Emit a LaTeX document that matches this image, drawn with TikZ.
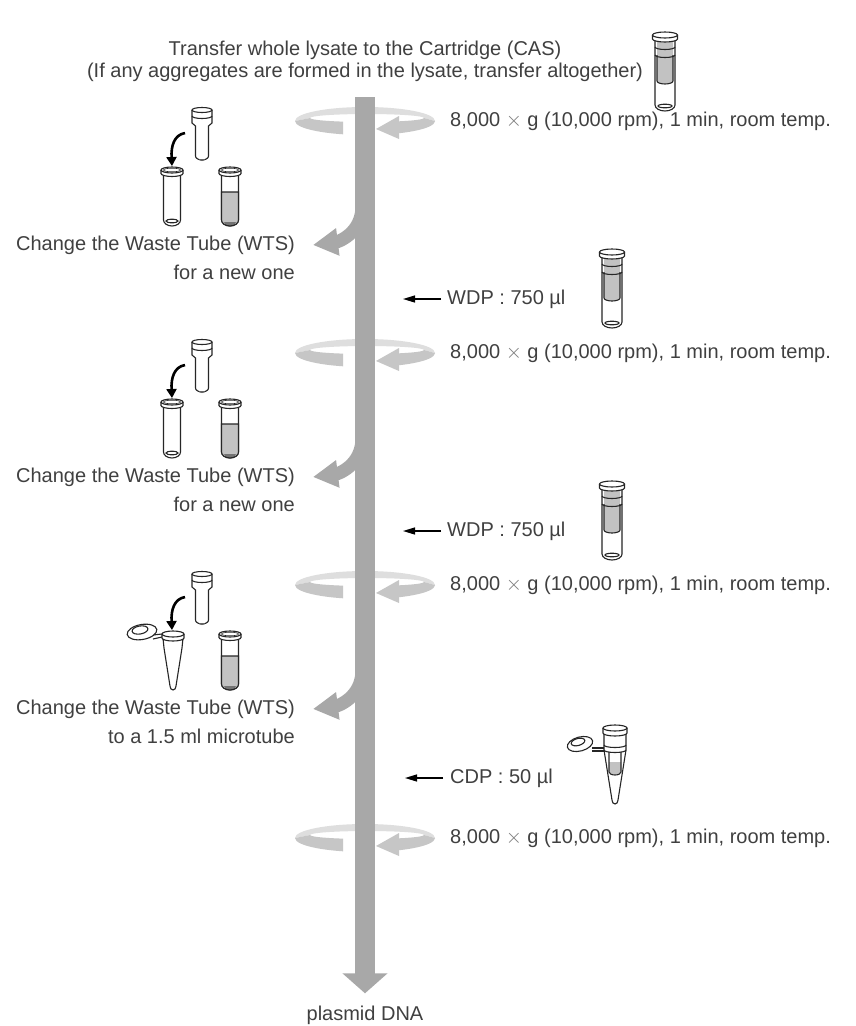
\documentclass[tikz,border=0pt]{standalone}
\usepackage{fontspec}
\setmainfont{Liberation Sans}
\usetikzlibrary{arrows.meta}

\definecolor{flowgray}{HTML}{A8A8A8}
\definecolor{ringlight}{HTML}{DEDEDE}
\definecolor{ringdark}{HTML}{C6C6C6}
\definecolor{ink}{HTML}{404040}
\definecolor{liquid}{HTML}{C2C2C2}

\tikzset{
  lbl/.style={inner sep=0pt,text=ink},
  trunk/.style={draw=flowgray,line width=20pt,-{Triangle[width=44pt,length=20pt]}},
  branch/.style={draw=flowgray,line width=13pt,-{Triangle[width=26pt,length=25pt]}},
  addarrow/.style={draw=black,line width=1.3pt,-{Triangle[width=7pt,length=12pt]}},
  movearrow/.style={draw=black,line width=2.6pt,-{Triangle[width=10pt,length=9pt]}},
  outline/.style={draw=black!85,line width=1.1pt},
  % spin ring, back half (drawn before the trunk)
  ringback/.pic={
    \fill[ringlight] (-70,0) arc[start angle=180,end angle=360,x radius=70,y radius=14]
      -- (59,-3) arc[start angle=0,end angle=-180,x radius=57,y radius=4] -- cycle;
  },
  % spin ring, front half with the arrow head
  ringfront/.pic={
    \begin{scope}
      \clip (-85,-20) rectangle (-22,20);
      \fill[ringdark] (-70,0) arc[start angle=180,end angle=0,x radius=70,y radius=14]
        -- (59,-3) arc[start angle=0,end angle=180,x radius=57,y radius=4] -- cycle;
    \end{scope}
    \begin{scope}
      \clip (33,-20) rectangle (85,20);
      \fill[ringdark] (-70,0) arc[start angle=180,end angle=0,x radius=70,y radius=14]
        -- (59,-3) arc[start angle=0,end angle=180,x radius=57,y radius=4] -- cycle;
    \end{scope}
    \fill[ringdark] (34,-5) -- (34,18) -- (11,8) -- cycle;
  },
  wastetube/.pic={
    \draw[outline,fill=white] (-8.5,4) -- (-8.5,50) arc[start angle=180,end angle=0,x radius=8.5,y radius=6] -- (8.5,4);
    \draw[outline] (0,51) ellipse[x radius=6,y radius=1.8];
    \draw[outline,fill=white] (-11,0) -- (-11,3.5) arc[start angle=180,end angle=0,x radius=11,y radius=3] -- (11,0);
    \draw[outline,fill=white] (0,0) ellipse[x radius=11,y radius=3];
    \draw[outline,line width=.6pt] (0,0) ellipse[x radius=8.5,y radius=1.8];
  },
  usedtube/.pic={
    \pic {wastetube};
    \fill[liquid] (-8.5,22) -- (-8.5,50) arc[start angle=180,end angle=0,x radius=8.5,y radius=6] -- (8.5,22) -- cycle;
    \fill[black!55] (-6,52) arc[start angle=180,end angle=0,x radius=6,y radius=4] -- cycle;
    \draw[outline] (-8.5,22) -- (-8.5,50) arc[start angle=180,end angle=0,x radius=8.5,y radius=6] -- (8.5,22) -- cycle;
  },
  cartridge/.pic={
    \draw[outline,fill=white] (-10,0) -- (-10,13) -- (-6.5,16) -- (-6.5,46)
      arc[start angle=180,end angle=0,x radius=6.5,y radius=4] -- (6.5,16) -- (10,13) -- (10,0);
    \draw[outline] (-10,6) arc[start angle=180,end angle=0,x radius=10,y radius=2.5];
    \draw[outline,fill=white] (0,0) ellipse[x radius=10,y radius=2.5];
    \fill[black!60] (-3,49) arc[start angle=180,end angle=0,x radius=3,y radius=2] -- cycle;
  },
  cartubed/.pic={
    \draw[outline,fill=white] (-10,5) -- (-10,70) arc[start angle=180,end angle=0,x radius=10,y radius=6] -- (10,5);
    \draw[outline] (0,71) ellipse[x radius=7,y radius=1.8];
    \fill[liquid] (-8,6) -- (-8,46) arc[start angle=180,end angle=0,x radius=8,y radius=3] -- (8,6) -- cycle;
    \draw[outline] (-8,20) -- (-8,46) arc[start angle=180,end angle=0,x radius=8,y radius=3] -- (8,20);
    \draw[outline] (-10,12) arc[start angle=180,end angle=0,x radius=10,y radius=2.5];
    \draw[outline] (-10,20) arc[start angle=180,end angle=0,x radius=10,y radius=2.5];
    \draw[outline,fill=white] (-12.5,0) -- (-12.5,4) arc[start angle=180,end angle=0,x radius=12.5,y radius=3] -- (12.5,0);
    \draw[outline,fill=white] (0,0) ellipse[x radius=12.5,y radius=3];
  },
  microtube/.pic={
    \draw[outline,fill=white] (-10,4) -- (-9,14) -- (-3,52) arc[start angle=180,end angle=0,x radius=3,y radius=4] -- (9,14) -- (10,4);
    \draw[outline] (-11,3) -- (-20,5);
    \draw[outline] (-11,0) -- (-20,1);
    \draw[outline,fill=white,rotate around={10:(-31,-2)}] (-31,-2) ellipse[x radius=15,y radius=7.5];
    \draw[outline,rotate around={10:(-33,-4)}] (-33,-4) ellipse[x radius=8,y radius=4];
    \draw[outline,fill=white] (-11,0) -- (-11,4) arc[start angle=180,end angle=0,x radius=11,y radius=3] -- (11,0);
    \draw[outline,fill=white] (0,0) ellipse[x radius=11,y radius=3];
  },
  microcart/.pic={
    \draw[outline,fill=white] (-11,6) -- (-11,22) -- (-3,72) arc[start angle=180,end angle=0,x radius=3,y radius=4] -- (11,22) -- (11,6);
    \fill[liquid] (-6,34) -- (-6,44) arc[start angle=180,end angle=0,x radius=6,y radius=3] -- (6,34) -- cycle;
    \draw[outline] (-6,24) -- (-6,44) arc[start angle=180,end angle=0,x radius=6,y radius=3] -- (6,24);
    \draw[outline] (-11,17) arc[start angle=180,end angle=0,x radius=11,y radius=2.5];
    \draw[outline] (-11,22) arc[start angle=180,end angle=0,x radius=11,y radius=2.5];
    \draw[outline] (-11,20) -- (-23,20);
    \draw[outline] (-11,23) -- (-23,23);
    \draw[outline,fill=white,rotate around={15:(-35,16)}] (-35,16) ellipse[x radius=13,y radius=7];
    \draw[outline,rotate around={15:(-37,14)}] (-37,14) ellipse[x radius=7,y radius=3.5];
    \draw[outline,fill=white] (-12,0) -- (-12,5) arc[start angle=180,end angle=0,x radius=12,y radius=3] -- (12,0);
    \draw[outline,fill=white] (0,0) ellipse[x radius=12,y radius=3];
  }
}

\begin{document}
\begin{tikzpicture}[x=1pt,y=-1pt,font=\fontsize{20}{24}\selectfont]
\path[fill=white] (0,0) rectangle (855,1026);

% title
\node[lbl] (title1) at (365,50) {Transfer whole lysate to the Cartridge (CAS)};
\node[lbl] (title2) at (365,72) {(If any aggregates are formed in the lysate, transfer altogether)};
\pic at (665,35) {cartubed};

% rings behind the column
\foreach \y in {121,353,585,838}
  \pic at (365,\y) {ringback};

% main column
\coordinate (top) at (365,97);
\node[lbl,anchor=base] (dna) at (365,1020) {plasmid DNA};
\draw[trunk] (top) -- ([yshift=12pt]dna.north);

% spin labels
\node[lbl,anchor=west] (spin1) at (450,121) {8,000 {\color{ink!70}$\times$} g (10,000 rpm), 1 min, room temp.};
\node[lbl,anchor=west] (spin2) at (450,353) {8,000 {\color{ink!70}$\times$} g (10,000 rpm), 1 min, room temp.};
\node[lbl,anchor=west] (spin3) at (450,585) {8,000 {\color{ink!70}$\times$} g (10,000 rpm), 1 min, room temp.};
\node[lbl,anchor=west] (spin4) at (450,838) {8,000 {\color{ink!70}$\times$} g (10,000 rpm), 1 min, room temp.};

% first tube change
\pic at (202,110) {cartridge};
\draw[movearrow] (185,133) .. controls (174,135) and (171,146) .. (172,166);
\pic at (172,170) {wastetube};
\pic at (230,170) {usedtube};
\node[lbl,anchor=east] (chg1) at (295,245) {Change the Waste Tube (WTS)};
\node[lbl,anchor=east] (new1) at (295,272) {for a new one};
\coordinate (fork1) at (362,206);
\draw[branch] (fork1) .. controls +(0,28) and +(24,-3) .. ([xshift=18pt]chg1.east);

\node[lbl,anchor=west] (wdp1) at (447,299) {WDP : 750 µl};
\draw[addarrow] ([xshift=-6pt]wdp1.west) -- ++(-38,0);
\pic at (612,252) {cartubed};

% second tube change
\pic at (202,342) {cartridge};
\draw[movearrow] (185,365) .. controls (174,367) and (171,378) .. (172,398);
\pic at (172,402) {wastetube};
\pic at (230,402) {usedtube};
\node[lbl,anchor=east] (chg2) at (295,477) {Change the Waste Tube (WTS)};
\node[lbl,anchor=east] (new2) at (295,504) {for a new one};
\coordinate (fork2) at (362,438);
\draw[branch] (fork2) .. controls +(0,28) and +(24,-3) .. ([xshift=18pt]chg2.east);

\node[lbl,anchor=west] (wdp2) at (447,531) {WDP : 750 µl};
\draw[addarrow] ([xshift=-6pt]wdp2.west) -- ++(-38,0);
\pic at (612,484) {cartubed};

% change to the microtube
\pic at (202,574) {cartridge};
\draw[movearrow] (185,597) .. controls (174,599) and (171,610) .. (172,630);
\pic at (173,634) {microtube};
\pic at (230,634) {usedtube};
\node[lbl,anchor=east] (chg3) at (295,709) {Change the Waste Tube (WTS)};
\node[lbl,anchor=east] (mic3) at (295,736) {to a 1.5 ml microtube};
\coordinate (fork3) at (362,670);
\draw[branch] (fork3) .. controls +(0,28) and +(24,-3) .. ([xshift=18pt]chg3.east);

\node[lbl,anchor=west] (cdp) at (450,778) {CDP : 50 µl};
\draw[addarrow] ([xshift=-7pt]cdp.west) -- ++(-38,0);
\pic at (615,728) {microcart};

% rings in front of the column
\foreach \y in {121,353,585,838}
  \pic at (365,\y) {ringfront};
\end{tikzpicture}
\end{document}
